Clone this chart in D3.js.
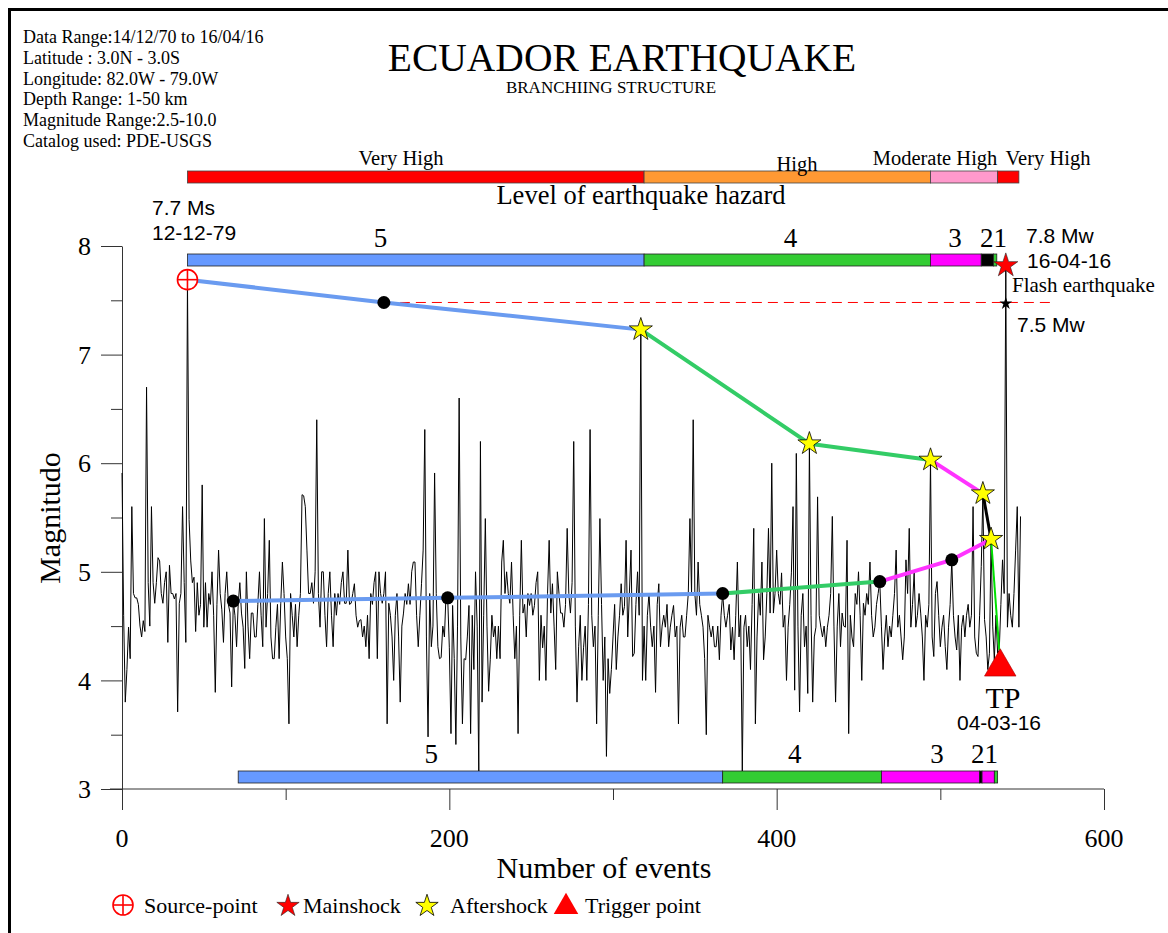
<!DOCTYPE html>
<html><head><meta charset="utf-8">
<script src="https://cdn.jsdelivr.net/npm/d3@7"></script>
<style>body{margin:0;background:#fff}svg{display:block}</style>
</head><body>
<svg id="chart" width="1168" height="933"></svg>
<script>
// ---------- DATA ----------
const magnitudes = [
5.91,4.60,3.80,4.10,4.49,4.20,5.60,4.80,4.76,4.76,
4.70,4.50,4.40,4.55,4.45,6.70,4.90,4.50,5.60,4.90,
4.71,4.90,5.13,5.10,4.80,4.71,4.90,5.00,4.35,5.06,
4.80,4.80,4.75,4.80,3.71,4.71,4.80,5.60,4.90,4.35,
7.69,5.48,5.10,4.90,4.95,4.45,4.90,4.60,4.70,5.80,
4.49,4.90,4.49,4.80,4.70,5.00,4.60,3.89,4.70,5.20,
4.80,4.65,4.35,4.80,5.00,4.70,4.62,3.94,4.73,4.60,
4.31,4.70,4.90,4.62,4.49,4.11,5.00,4.50,4.20,4.62,
4.62,4.40,4.40,4.70,5.00,4.60,4.31,5.49,4.49,4.80,
5.29,4.40,4.20,4.20,4.49,4.70,4.20,4.71,5.09,4.80,
4.40,4.20,3.60,4.80,4.60,4.40,4.70,4.31,4.60,4.80,
5.71,5.70,5.60,5.20,4.80,4.80,4.90,4.71,5.00,6.40,
4.80,4.49,5.00,5.00,4.60,4.31,4.80,5.00,4.60,4.31,
4.80,4.60,4.80,4.70,4.90,5.00,4.71,4.71,5.20,4.70,
4.71,4.80,4.89,4.60,4.49,4.55,4.56,4.40,4.50,4.31,
4.60,4.20,4.80,4.70,4.90,5.00,4.20,5.00,4.80,4.71,
4.80,5.00,3.60,4.71,4.60,4.40,4.00,4.60,4.80,4.40,
3.80,4.50,4.62,4.80,4.70,4.89,4.70,5.00,5.09,5.09,
4.60,4.31,4.60,4.89,5.20,6.31,4.40,3.48,4.80,4.31,
4.50,5.91,4.80,4.31,4.20,4.21,4.50,4.40,4.80,4.76,
4.30,3.51,4.69,4.20,3.41,4.50,6.60,4.40,3.60,4.20,
4.19,4.40,4.69,3.51,4.60,4.10,5.00,4.50,3.16,6.20,
3.80,4.60,5.49,4.50,3.90,4.19,4.60,4.40,4.50,4.20,
4.50,4.20,5.09,5.29,4.80,5.00,4.80,4.71,5.09,4.60,
4.20,4.50,3.51,4.60,5.29,4.62,4.70,4.40,4.80,4.69,
4.80,4.60,4.69,4.90,5.00,4.00,4.60,4.30,4.50,4.00,
4.80,5.29,4.62,4.89,4.50,4.10,5.00,4.80,4.62,4.62,
4.49,4.70,5.40,4.80,4.62,4.90,6.20,4.50,3.80,4.31,
4.60,4.00,4.30,4.50,4.00,4.70,6.31,4.60,4.31,4.50,
3.60,4.60,5.49,4.70,4.00,4.40,3.30,4.20,3.88,4.10,
4.40,4.70,4.10,4.40,4.60,4.89,4.60,4.68,5.29,4.40,
4.80,5.20,4.22,4.25,4.70,5.00,4.60,7.23,4.00,4.50,
4.00,4.60,4.80,4.49,4.31,4.50,3.89,4.70,4.89,4.31,
4.50,4.60,4.49,4.70,4.31,4.49,4.60,4.69,4.40,4.50,
3.60,4.49,4.60,4.40,4.40,4.60,4.80,5.49,4.80,6.40,
4.80,4.60,5.09,4.70,4.60,4.49,4.20,3.50,4.60,4.49,
4.40,4.50,4.31,4.31,4.50,4.19,4.60,4.80,4.60,4.49,
4.60,4.70,4.28,4.49,4.19,4.60,5.09,4.40,4.60,3.16,
4.49,4.60,4.31,4.50,4.10,4.70,5.40,3.60,4.40,4.80,
4.60,5.09,4.19,4.40,4.80,5.40,4.62,6.00,4.62,4.80,
5.20,4.80,4.70,4.99,4.49,4.60,4.00,4.49,4.70,4.99,
5.60,3.91,6.09,4.50,3.71,4.60,4.80,4.31,4.50,3.88,
6.18,4.60,3.80,4.40,4.49,5.69,4.60,4.49,4.40,4.50,
4.31,4.49,4.60,4.80,5.51,4.50,3.80,4.50,4.80,4.31,
4.62,4.50,4.49,5.29,3.51,4.60,4.40,4.31,4.80,4.70,
5.00,4.60,4.00,4.71,4.60,4.80,4.70,5.09,4.60,4.40,
4.49,4.70,4.80,4.91,4.50,4.10,4.40,4.60,4.31,4.50,
4.40,4.60,4.80,5.20,4.49,4.60,4.40,4.19,4.40,5.11,
4.80,5.40,4.49,4.70,4.99,4.49,4.60,4.80,4.62,4.40,
4.00,4.60,4.49,4.70,6.03,4.40,4.22,4.80,4.91,4.60,
4.31,4.49,4.60,4.31,4.10,4.49,4.70,5.11,4.60,4.40,
4.28,4.60,4.00,4.49,4.60,4.40,4.60,4.70,4.49,4.60,
5.60,4.40,4.25,4.22,4.60,5.05,5.72,4.56,4.40,4.10,
4.25,5.30,4.50,4.19,4.60,4.25,4.28,4.70,5.11,4.80,
7.82,4.49,4.80,4.60,4.49,4.80,5.20,5.60,4.49,5.51
];
const xTickValues = [0,100,200,300,400,500,600];
const xTickLabels = ["0","200","400","600"];
const yTickValues = [3,3.5,4,4.5,5,5.5,6,6.5,7,7.5,8];
const yTickLabels = ["3","4","5","6","7","8"];

// hazard level bar
const hazardBounds = [40, 319, 494, 535, 548];
const hazardNames = ["Very High","High","Moderate High","Very High"];
const hazardColors = ["#ff0000","#ff9933","#ff99cc","#ff0000"];

// branching level bars
const upperBarBounds = [40, 319, 494, 525, 532.5, 534.5];
const upperBarColors = ["#6699ff","#33cc33","#ff00ff","#000000","#33cc33"];
const lowerBarBounds = [71, 367, 464, 524, 525.5, 533, 535];
const lowerBarColors = ["#6699ff","#33cc33","#ff00ff","#000000","#ff00ff","#33cc33"];
const levelLabels = ["5","4","3","21"];
const upperLevelLabelAt = [158, 408.5, 509, 532.5];
const lowerLevelLabelAt = [189, 411, 498, 527];

// branching chains [event, magnitude]
const upperBlue = [[40,7.69],[160,7.48],[317,7.23]];
const upperGreen = [[317,7.23],[420,6.18],[494,6.03]];
const upperMagenta = [[494,6.03],[526,5.72]];
const upperBlack = [[526,5.72],[531,5.30]];
const triggerLink = [[531,5.30],[536,4.28]];
const lowerBlue = [[68,4.73],[199,4.76],[367,4.80]];
const lowerGreen = [[367,4.80],[463,4.91]];
const lowerMagenta = [[463,4.91],[507,5.11],[531,5.30]];

const blackDots = [[160,7.48],[68,4.73],[199,4.76],[367,4.80],[463,4.91],[507,5.11]];
const aftershocks = [[317,7.23],[420,6.18],[494,6.03],[526,5.72],[531,5.30]];
const sourcePoint = [40,7.69];
const mainshock = [540,7.82];
const foreshock = [540,7.47];
const triggerPoint = [536,4.28];
const flashLevel = {from:160, to:570, mag:7.48};

const infoLines = ["Data Range:14/12/70 to 16/04/16","Latitude : 3.0N - 3.0S","Longitude: 82.0W - 79.0W","Depth Range: 1-50 km","Magnitude Range:2.5-10.0","Catalog used: PDE-USGS"];

// ---------- DRAW ----------
const svg = d3.select("#chart");
const SERIF = "'Liberation Serif','Times New Roman',serif";
const SANS = "'Liberation Sans',Arial,sans-serif";
const x = d3.scaleLinear().domain([0,600]).range([122,1104]);
const y = d3.scaleLinear().domain([3,8]).range([789,246]);

svg.append("rect").attr("width",1168).attr("height",933).attr("fill","#fff");
svg.append("rect").attr("x",9.5).attr("y",9.5).attr("width",1300).attr("height",1100)
  .attr("fill","none").attr("stroke","#000").attr("stroke-width",3);

// info text
svg.append("g").selectAll("text").data(infoLines).join("text")
  .attr("x",23).attr("y",(d,i)=>43+i*20.8)
  .attr("font-family",SERIF).attr("font-size",18).text(d=>d);

svg.append("text").attr("x",622).attr("y",71).attr("text-anchor","middle")
  .attr("font-family",SERIF).attr("font-size",39.5).text("ECUADOR EARTHQUAKE");
svg.append("text").attr("x",611).attr("y",93).attr("text-anchor","middle")
  .attr("font-family",SERIF).attr("font-size",17).text("BRANCHIING STRUCTURE");

// hazard bar
const hz = svg.append("g");
hz.selectAll("rect").data(hazardColors).join("rect")
  .attr("x",(d,i)=>x(hazardBounds[i])).attr("y",171)
  .attr("width",(d,i)=>x(hazardBounds[i+1])-x(hazardBounds[i])).attr("height",12)
  .attr("fill",d=>d).attr("stroke","#444").attr("stroke-width",0.8);
const hazardLabelPos = [[401,165],[797,171],[935,165],[1048,165]];
hz.selectAll("text").data(hazardNames).join("text")
  .attr("x",(d,i)=>hazardLabelPos[i][0]).attr("y",(d,i)=>hazardLabelPos[i][1])
  .attr("text-anchor","middle").attr("font-family",SERIF).attr("font-size",20.5).text(d=>d);
svg.append("text").attr("x",641).attr("y",204).attr("text-anchor","middle")
  .attr("font-family",SERIF).attr("font-size",26.5).text("Level of earthquake hazard");

// axes
const xAxis = d3.axisBottom(x).tickValues(xTickValues).tickSizeOuter(0).tickFormat("");
const gx = svg.append("g").attr("transform",`translate(0,${y(3)})`).call(xAxis);
gx.selectAll(".tick line").attr("y2",d=>d%200===0?21:11);
gx.select(".domain").attr("d",`M${x(0)-12},0H${x(600)}`);
const yAxis = d3.axisLeft(y).tickValues(yTickValues).tickSizeOuter(0).tickFormat("");
const gy = svg.append("g").attr("transform",`translate(${x(0)},0)`).call(yAxis);
gy.selectAll(".tick line").attr("x2",d=>Number.isInteger(d)?-21:-11);
[gx,gy].forEach(g=>{g.selectAll("line,path").attr("stroke","#333").attr("stroke-width",1);});

svg.append("g").selectAll("text").data(xTickLabels).join("text")
  .attr("x",d=>x(+d)).attr("y",847).attr("text-anchor","middle")
  .attr("font-family",SERIF).attr("font-size",26).text(d=>d);
svg.append("g").selectAll("text").data(yTickLabels).join("text")
  .attr("x",91).attr("y",d=>y(+d)).attr("dy","0.35em").attr("text-anchor","end")
  .attr("font-family",SERIF).attr("font-size",26).text(d=>d);
svg.append("text").attr("x",604).attr("y",878).attr("text-anchor","middle")
  .attr("font-family",SERIF).attr("font-size",30).text("Number of events");
svg.append("text").attr("transform","translate(60,518) rotate(-90)").attr("text-anchor","middle")
  .attr("font-family",SERIF).attr("font-size",30).text("Magnitudo");

// series
const line = d3.line().x((d,i)=>x(i)).y(d=>y(d));
svg.append("path").datum(magnitudes).attr("d",line)
  .attr("fill","none").attr("stroke","#000").attr("stroke-width",1);

// flash dashed line
svg.append("line").attr("x1",x(flashLevel.from)).attr("x2",x(flashLevel.to))
  .attr("y1",y(flashLevel.mag)).attr("y2",y(flashLevel.mag))
  .attr("stroke","#ff0000").attr("stroke-width",1).attr("stroke-dasharray","10,6");

// level bars
function levelBar(bounds, colors, yTop, labels, labelAt, labelY){
  const g = svg.append("g");
  g.selectAll("rect").data(colors).join("rect")
    .attr("x",(d,i)=>x(bounds[i])).attr("y",yTop)
    .attr("width",(d,i)=>x(bounds[i+1])-x(bounds[i])).attr("height",12)
    .attr("fill",d=>d).attr("stroke","#222").attr("stroke-width",0.8);
  g.selectAll("text").data(labels).join("text")
    .attr("x",(d,i)=>x(labelAt[i])).attr("y",labelY).attr("text-anchor","middle")
    .attr("font-family",SERIF).attr("font-size",27).text(d=>d);
}
levelBar(upperBarBounds, upperBarColors, 254, levelLabels, upperLevelLabelAt, 247);
levelBar(lowerBarBounds, lowerBarColors, 771, levelLabels, lowerLevelLabelAt, 763);

// chains
const cl = d3.line().x(d=>x(d[0])).y(d=>y(d[1]));
const chains = [
  [upperBlue,"#6a9bf0",4],[upperGreen,"#33cc66",4],[upperMagenta,"#ff33ff",4],[upperBlack,"#000",3],
  [triggerLink,"#00e000",2],[lowerBlue,"#6a9bf0",4],[lowerGreen,"#33cc66",4],[lowerMagenta,"#ff33ff",4]
];
chains.forEach(([pts,col,w])=>{
  svg.append("path").attr("d",cl(pts)).attr("fill","none").attr("stroke",col)
    .attr("stroke-width",w).attr("stroke-linejoin","round");
});

// markers
svg.append("g").selectAll("circle").data(blackDots).join("circle")
  .attr("cx",d=>x(d[0])).attr("cy",d=>y(d[1])).attr("r",6.5).attr("fill","#000");
const star = s=>d3.symbol().type(d3.symbolStar).size(s)();
svg.append("g").selectAll("path").data(aftershocks).join("path")
  .attr("transform",d=>`translate(${x(d[0])},${y(d[1])})`).attr("d",star(165))
  .attr("fill","#ffff00").attr("stroke","#000").attr("stroke-width",0.8);

function sourceMark(g,cx,cy){
  g.append("circle").attr("cx",cx).attr("cy",cy).attr("r",10).attr("fill","#fff")
    .attr("stroke","#ff0000").attr("stroke-width",1.6);
  g.append("line").attr("x1",cx-10).attr("x2",cx+10).attr("y1",cy).attr("y2",cy).attr("stroke","#ff0000").attr("stroke-width",1.6);
  g.append("line").attr("x1",cx).attr("x2",cx).attr("y1",cy-10).attr("y2",cy+10).attr("stroke","#ff0000").attr("stroke-width",1.6);
}
sourceMark(svg, x(sourcePoint[0]), y(sourcePoint[1]));
svg.append("path").attr("transform",`translate(${x(foreshock[0])},${y(foreshock[1])})`)
  .attr("d",star(50)).attr("fill","#000");
svg.append("path").attr("transform",`translate(${x(mainshock[0])},${y(mainshock[1])})`)
  .attr("d",star(180)).attr("fill","#ff0000").attr("stroke","#222").attr("stroke-width",0.6);
const tri = d3.symbol().type(d3.symbolTriangle).size(430)();
svg.append("path").attr("transform",`translate(${x(triggerPoint[0])+1},${y(triggerPoint[1])+17})`)
  .attr("d",tri).attr("fill","#ff0000").attr("stroke","#aa0000").attr("stroke-width",0.6);

// annotations
const ann = [
  ["7.7 Ms",152,215,SANS,21,"start"],["12-12-79",152,240,SANS,21,"start"],
  ["7.8 Mw",1026,243,SANS,21,"start"],["16-04-16",1027,268,SANS,21,"start"],
  ["Flash earthquake",1012,292,SERIF,21,"start"],["7.5 Mw",1017,332,SANS,21,"start"],
  ["TP",1003,708,SERIF,30,"middle"],["04-03-16",999,730,SANS,21,"middle"]
];
svg.append("g").selectAll("text").data(ann).join("text")
  .attr("x",d=>d[1]).attr("y",d=>d[2]).attr("font-family",d=>d[3]).attr("font-size",d=>d[4])
  .attr("text-anchor",d=>d[5]).text(d=>d[0]);

// legend
const lg = svg.append("g");
sourceMark(lg, 123, 905);
lg.append("text").attr("x",144).attr("y",913).attr("font-family",SERIF).attr("font-size",22).text("Source-point");
lg.append("path").attr("transform","translate(288,906)").attr("d",star(155)).attr("fill","#ff0000").attr("stroke","#222").attr("stroke-width",0.6);
lg.append("text").attr("x",303).attr("y",913).attr("font-family",SERIF).attr("font-size",22).text("Mainshock");
lg.append("path").attr("transform","translate(427,906)").attr("d",star(155)).attr("fill","#ffff00").attr("stroke","#000").attr("stroke-width",0.8);
lg.append("text").attr("x",450).attr("y",913).attr("font-family",SERIF).attr("font-size",22).text("Aftershock");
lg.append("path").attr("transform","translate(566,907)").attr("d",d3.symbol().type(d3.symbolTriangle).size(260)()).attr("fill","#ff0000");
lg.append("text").attr("x",585).attr("y",913).attr("font-family",SERIF).attr("font-size",22).text("Trigger point");
</script>
</body></html>
